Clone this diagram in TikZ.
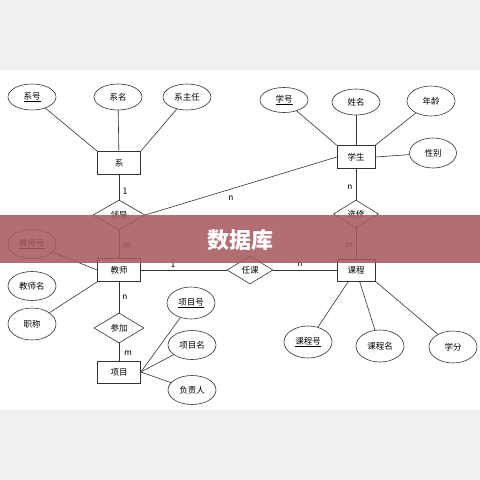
\documentclass[tikz,border=0pt]{standalone}
\usepackage{fontspec}
\setmainfont{Noto Sans CJK SC}
\usetikzlibrary{shapes.geometric}
\definecolor{bannerred}{HTML}{A85A60}
\definecolor{inkline}{HTML}{333333}
\begin{document}
\begin{tikzpicture}[x=1pt,y=-1pt,
  font=\fontsize{8.5}{10}\selectfont,
  ent/.style={draw=inkline, line width=0.6pt, minimum width=43pt, minimum height=23pt, inner sep=0pt, fill=white},
  attr/.style={draw=inkline, ellipse, line width=0.6pt, minimum width=48pt, minimum height=29pt, inner sep=0pt, fill=white},
  rel/.style={draw=inkline, diamond, line width=0.6pt, minimum width=52pt, minimum height=30pt, inner sep=0pt, fill=white},
  lnk/.style={draw=inkline, line width=0.6pt},
  card/.style={inner sep=1pt, font=\sffamily\fontsize{10}{11}\selectfont}]
\useasboundingbox (0,0) rectangle (480,480);
\fill[white] (0,0) rectangle (480,480);
\fill[black!6] (0,0) rectangle (480,70);
\fill[black!6] (0,410) rectangle (480,480);

% entities
\node[ent] (xi) at (119,163) {系};
\node[ent, minimum width=38pt] (xs) at (356,157) {学生};
\node[ent] (js) at (119,270) {教师};
\node[ent, minimum width=38pt, minimum height=22pt] (kc) at (356,270) {课程};
\node[ent, minimum height=22pt] (xm) at (119,372) {项目};

% relations
\node[rel] (ld) at (119,215) {领导};
\node[rel, minimum width=45pt, minimum height=28pt] (xx) at (356,214) {选修};
\node[rel, minimum width=46pt, minimum height=28pt] (rk) at (250,270) {任课};
\node[rel, minimum width=50pt] (cj) at (119,328) {参加};

% attributes
\node[attr, minimum height=26pt] (xh) at (32,97) {\underline{系号}};
\node[attr, minimum height=26pt] (xmn) at (118,97) {系名};
\node[attr, minimum height=26pt] (xzr) at (187,97) {系主任};
\node[attr, minimum height=25pt] (xuh) at (284,100) {\underline{学号}};
\node[attr, minimum height=26pt] (xingm) at (356,102) {姓名};
\node[attr, minimum height=30pt] (nl) at (431,101) {年龄};
\node[attr, minimum width=47pt, minimum height=30pt] (xb) at (433,153) {性别};
\node[attr] (jsh) at (32,244) {\underline{教师号}};
\node[attr] (jsm) at (32,286) {教师名};
\node[attr, minimum height=32pt] (zc) at (32,324) {职称};
\node[attr, minimum height=32pt] (xmh) at (191,303) {\underline{项目号}};
\node[attr] (xmm) at (192,345) {项目名};
\node[attr] (fzr) at (192,390) {负责人};
\node[attr, minimum height=32pt] (kch) at (308,342) {\underline{课程号}};
\node[attr, minimum height=32pt] (kcm) at (380,346) {课程名};
\node[attr, minimum height=32pt] (xf) at (453,347) {学分};

% connectors
\path[lnk] (xh) -- (xi.north west);
\path[lnk] (xmn) -- (xi);
\path[lnk] (xzr) -- (xi.north east);
\path[lnk] (xi) -- (ld);
\path[lnk] (ld) -- (js);
\path[lnk] (ld.east) -- (xs.west);
\path[lnk] (xuh) -- (xs.north west);
\path[lnk] (xingm) -- (xs);
\path[lnk] (nl) -- (xs.north east);
\path[lnk] (xb) -- (xs.east);
\path[lnk] (xs) -- (xx);
\path[lnk] (xx) -- (kc);
\path[lnk] (js.east) -- (rk.west);
\path[lnk] (rk.east) -- (kc.west);
\path[lnk] (jsh) -- (js.west);
\path[lnk] (zc) -- (js.south west);
\path[lnk] (js) -- (cj);
\path[lnk] (cj) -- (xm);
\path[lnk] (xmh) -- (xm.east);
\path[lnk] (xmm) -- (xm.east);
\path[lnk] (fzr) -- (xm.east);
\path[lnk] (kch) -- (kc);
\path[lnk] (kcm) -- (kc);
\path[lnk] (xf) -- (kc.south east);

% cardinalities
\node[card] (c1) at (125,191) {1};
\node[card] (c2) at (127,246) {m};
\node[card] (c3) at (231,198) {n};
\node[card] (c4) at (350,187) {n};
\node[card] (c5) at (349,245) {m};
\node[card] (c6) at (173,264) {1};
\node[card] (c7) at (300,264) {n};
\node[card] (c8) at (125,297) {n};
\node[card] (c9) at (128,353) {m};

% banner
\fill[bannerred, fill opacity=0.88] (0,215) rectangle (480,263);
\node[text=white, font=\bfseries\fontsize{22}{25}\selectfont] (title) at (240,240) {数据库};
\end{tikzpicture}
\end{document}
